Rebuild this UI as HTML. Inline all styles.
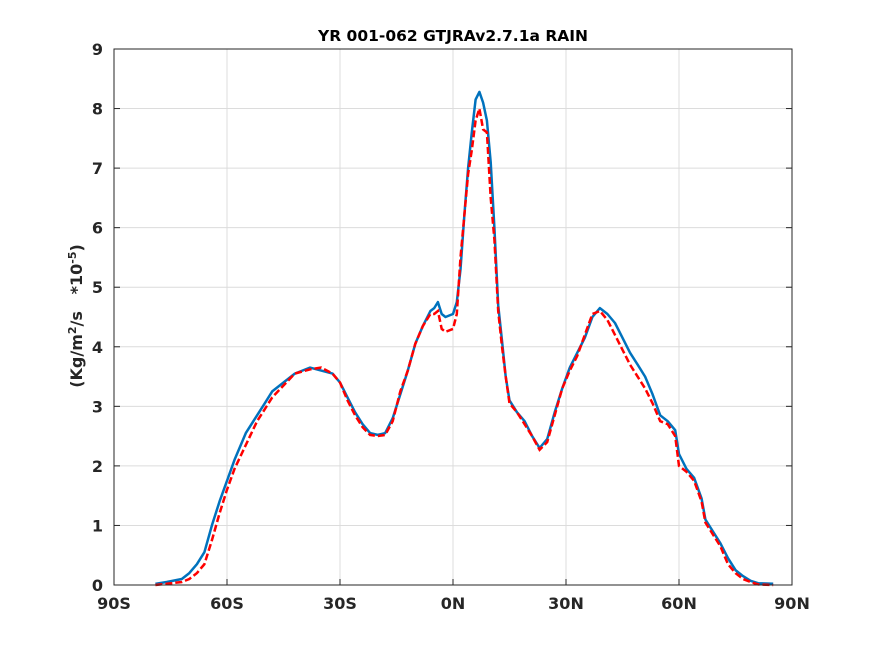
<!DOCTYPE html>
<html><head><meta charset="utf-8"><style>
body{margin:0;background:#fff;}
svg text{font-family:"DejaVu Sans","Liberation Sans",sans-serif;font-weight:bold;fill:#262626;}
</style></head><body>
<svg id="chart" width="875" height="656" xmlns="http://www.w3.org/2000/svg">
<rect width="875" height="656" fill="#fff"/>
<g id="grid"></g>
<g id="series"></g>
<g id="axes"></g>
<text x="453" y="41" text-anchor="middle" font-size="15.5" style="fill:#000">YR 001-062 GTJRAv2.7.1a RAIN</text>
<text transform="translate(82,316) rotate(-90)" text-anchor="middle" font-size="16">(Kg/m<tspan dy="-6" font-size="11">2</tspan><tspan dy="6">/s&#160;&#160;&#160;*10</tspan><tspan dy="-6" font-size="11">-5</tspan><tspan dy="6">)</tspan></text>
</svg>
<script>
const xTicks=[-90,-60,-30,0,30,60,90];
const xTickLabels=["90S","60S","30S","0N","30N","60N","90N"];
const yTicks=[0,1,2,3,4,5,6,7,8,9];
const lats=[-79,-76,-72,-70,-68,-66,-64,-62,-60,-58,-55,-52,-50,-48,-45,-42,-38,-35,-32,-30,-28,-26,-24,-22,-20,-18,-16,-14,-12,-10,-8,-6,-5,-4,-3,-2,0,1,2,3,4,5,6,7,8,9,10,11,12,13,14,15,17,19,21,23,25,27,29,31,33,35,37,39,41,43,45,47,49,51,53,55,57,59,60,62,64,66,67,69,71,73,75,77,79,81,85];
const blueVals=[0.02,0.05,0.1,0.2,0.35,0.55,1.0,1.4,1.75,2.1,2.55,2.85,3.05,3.25,3.4,3.55,3.65,3.6,3.55,3.4,3.15,2.9,2.7,2.55,2.52,2.55,2.8,3.2,3.6,4.05,4.35,4.6,4.65,4.75,4.55,4.5,4.55,4.75,5.3,6.2,7.0,7.6,8.15,8.28,8.1,7.8,7.1,6.0,4.7,4.1,3.5,3.1,2.9,2.75,2.5,2.3,2.45,2.9,3.3,3.65,3.9,4.15,4.5,4.65,4.55,4.4,4.15,3.9,3.7,3.5,3.2,2.85,2.75,2.6,2.2,1.95,1.8,1.45,1.1,0.9,0.7,0.45,0.25,0.15,0.07,0.03,0.02];
const redVals=[0,0.02,0.05,0.1,0.2,0.35,0.75,1.2,1.6,1.95,2.35,2.75,2.95,3.15,3.35,3.55,3.62,3.65,3.55,3.4,3.1,2.85,2.65,2.52,2.5,2.52,2.75,3.25,3.6,4.05,4.35,4.55,4.55,4.6,4.3,4.25,4.3,4.55,5.5,6.2,6.9,7.3,7.8,8.0,7.65,7.6,6.5,5.8,4.6,4.0,3.5,3.05,2.9,2.7,2.5,2.27,2.4,2.85,3.3,3.6,3.85,4.2,4.55,4.6,4.45,4.2,3.95,3.7,3.5,3.3,3.05,2.75,2.7,2.5,2.0,1.9,1.75,1.4,1.05,0.85,0.65,0.35,0.2,0.1,0.05,0.01,0];
const X0=114,X1=792,Y0=585,Y1=49;
const sx=v=>X0+(v+90)/180*(X1-X0);
const sy=v=>Y0-v/9*(Y0-Y1);
const NS="http://www.w3.org/2000/svg";
function mk(tag,attrs,parent){const e=document.createElementNS(NS,tag);for(const k in attrs)e.setAttribute(k,attrs[k]);parent.appendChild(e);return e;}
const grid=document.getElementById('grid'),axes=document.getElementById('axes'),series=document.getElementById('series');
xTicks.forEach((t,i)=>{
 const x=sx(t);
 const g=mk('line',{x1:x,x2:x,y1:Y1,y2:Y0,stroke:'#dcdcdc','stroke-width':1},grid);
 
 
 const tk=mk('line',{x1:x,x2:x,y1:Y0,y2:Y0-6,stroke:'#262626','stroke-width':1},axes);
 
 
 const tl=mk('text',{x:x,y:Y0+24,'text-anchor':'middle','font-size':16},axes);
 tl.textContent=xTickLabels[i];
 
 
});
yTicks.forEach(t=>{
 const y=sy(t);
 const g=mk('line',{x1:X0,x2:X1,y1:y,y2:y,stroke:'#dcdcdc','stroke-width':1},grid);
 
 
 const tk=mk('line',{x1:X0,x2:X0+6,y1:y,y2:y,stroke:'#262626','stroke-width':1},axes);
 
 
 const tk2=mk('line',{x1:X1,x2:X1-6,y1:y,y2:y,stroke:'#262626','stroke-width':1},axes);
 
 
 const tl=mk('text',{x:X0-11,y:y+6,'text-anchor':'end','font-size':16},axes);
 tl.textContent=String(t);
 
 
});
const box=mk('rect',{x:X0,y:Y1,width:X1-X0,height:Y0-Y1,fill:'none',stroke:'#262626','stroke-width':1},axes);


function path(vals){return lats.map((l,i)=>(i?'L':'M')+sx(l).toFixed(1)+','+sy(vals[i]).toFixed(1)).join(' ');}
const bl=mk('path',{d:path(blueVals),fill:'none',stroke:'#0072BD','stroke-width':2.5,'stroke-linejoin':'round'},series);


const rl=mk('path',{d:path(redVals),fill:'none',stroke:'#FF0000','stroke-width':2.5,'stroke-dasharray':'7,3'},series);


</script>
</body></html>
